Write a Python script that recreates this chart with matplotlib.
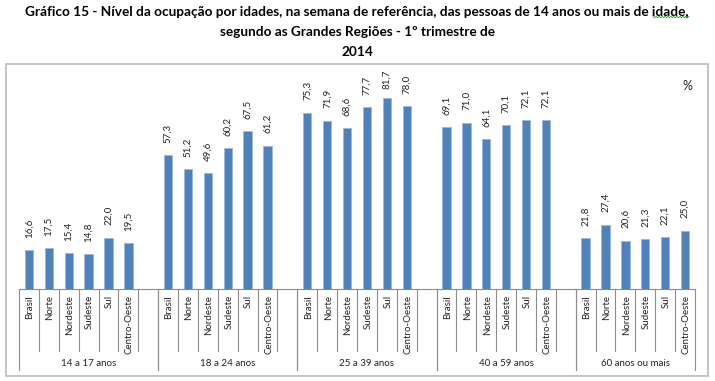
import matplotlib
matplotlib.use("Agg")
import matplotlib.pyplot as plt
from matplotlib.lines import Line2D
import numpy as np

plt.rcParams["font.family"] = ["Lato", "DejaVu Sans"]

# data
groups = ["14 a 17 anos", "18 a 24 anos", "25 a 39 anos", "40 a 59 anos", "60 anos ou mais"]
regions = ["Brasil", "Norte", "Nordeste", "Sudeste", "Sul", "Centro-Oeste"]
v_14_17 = [16.6, 17.5, 15.4, 14.8, 22.0, 19.5]
v_18_24 = [57.3, 51.2, 49.6, 60.2, 67.5, 61.2]
v_25_39 = [75.3, 71.9, 68.6, 77.7, 81.7, 78.0]
v_40_59 = [69.1, 71.0, 64.1, 70.1, 72.1, 72.1]
v_60_mais = [21.8, 27.4, 20.6, 21.3, 22.1, 25.0]
values = [v_14_17, v_18_24, v_25_39, v_40_59, v_60_mais]

title_lines = ["Gráfico 15 - Nível da ocupação por idades, na semana de referência, das pessoas de 14 anos ou mais de idade,",
               "segundo as Grandes Regiões - 1º trimestre de",
               "2014"]

W, H = 715, 381
fig = plt.figure(figsize=(W / 100, H / 100), dpi=100)

# pixel layout of the plot area
x0, x1 = 19, 695
y_base, y_top = 289, 78.4
ax = fig.add_axes([x0 / W, (H - y_base) / H, (x1 - x0) / W, (y_base - y_top) / H])
ax_h = y_base - y_top

def ay(py):
    # pixel row -> axes fraction
    return (y_base - py) / ax_h

bar_color = "#4F81BD"
edge_color = "#9DB9DF"
line_color = "#8C8C8C"
fs = 7

n_slots = len(groups) * 7 - 1
slot = 0
for g, (gname, vals) in enumerate(zip(groups, values)):
    xs = np.arange(slot, slot + len(regions)) + 0.5
    ax.bar(xs, vals, width=0.42, color=bar_color, edgecolor=edge_color, linewidth=0.7, zorder=3)
    for x, v, r in zip(xs, vals, regions):
        ax.text(x, min(v + 5.3, 85.3), f"{v:.1f}".replace(".", ","), rotation=90,
                ha="center", va="bottom", fontsize=fs, color="#222222")
        ax.text(x + 0.05, ay(295), r, rotation=90, ha="center", va="top", fontsize=fs,
                color="#222222", transform=ax.get_xaxis_transform())
    # short tick lines between categories
    for k in range(1, len(regions) + 1):
        if slot + k < n_slots:
            ax.plot([slot + k, slot + k], [0, ay(351)], color=line_color, lw=0.8,
                    transform=ax.get_xaxis_transform(), clip_on=False)
    # long group separators
    g_end = min(slot + 7, n_slots)
    for xb in (slot, g_end):
        ax.plot([xb, xb], [0, ay(370)], color=line_color, lw=0.8,
                transform=ax.get_xaxis_transform(), clip_on=False)
    ax.text((slot + g_end) / 2, ay(363), gname, ha="center", va="center", fontsize=fs,
            color="#222222", transform=ax.get_xaxis_transform())
    slot += 7

ax.set_xlim(0, n_slots)
ax.set_ylim(0, 90)
ax.set_xticks([])
ax.set_yticks([])
for s in ["left", "right", "top"]:
    ax.spines[s].set_visible(False)
ax.spines["bottom"].set_color(line_color)
ax.spines["bottom"].set_linewidth(0.8)
ax.patch.set_alpha(0)

# chart frame
fig.add_artist(plt.Rectangle((6 / W, (H - 376) / H), (708 - 6) / W, (376 - 64) / H,
                             transform=fig.transFigure, fill=False, edgecolor="#BFBFBF", lw=1.3))
fig.text(687 / W, 1 - 86 / H, "%", ha="center", va="center", fontsize=9, color="#222222")

# title
for ty, t in zip([11.5, 32, 52], title_lines):
    fig.text(357 / W, 1 - ty / H, t, ha="center", va="center", fontsize=9.8, fontweight="bold")

# spell-check squiggle under "idade"
sx = np.arange(653, 690, 1.5)
sy = 17 + np.where(np.arange(len(sx)) % 2 == 0, -0.7, 0.7)
fig.add_artist(Line2D(sx / W, 1 - sy / H, transform=fig.transFigure, color="#2E9E2E", lw=0.6))

fig.savefig("out.png", dpi=100)
